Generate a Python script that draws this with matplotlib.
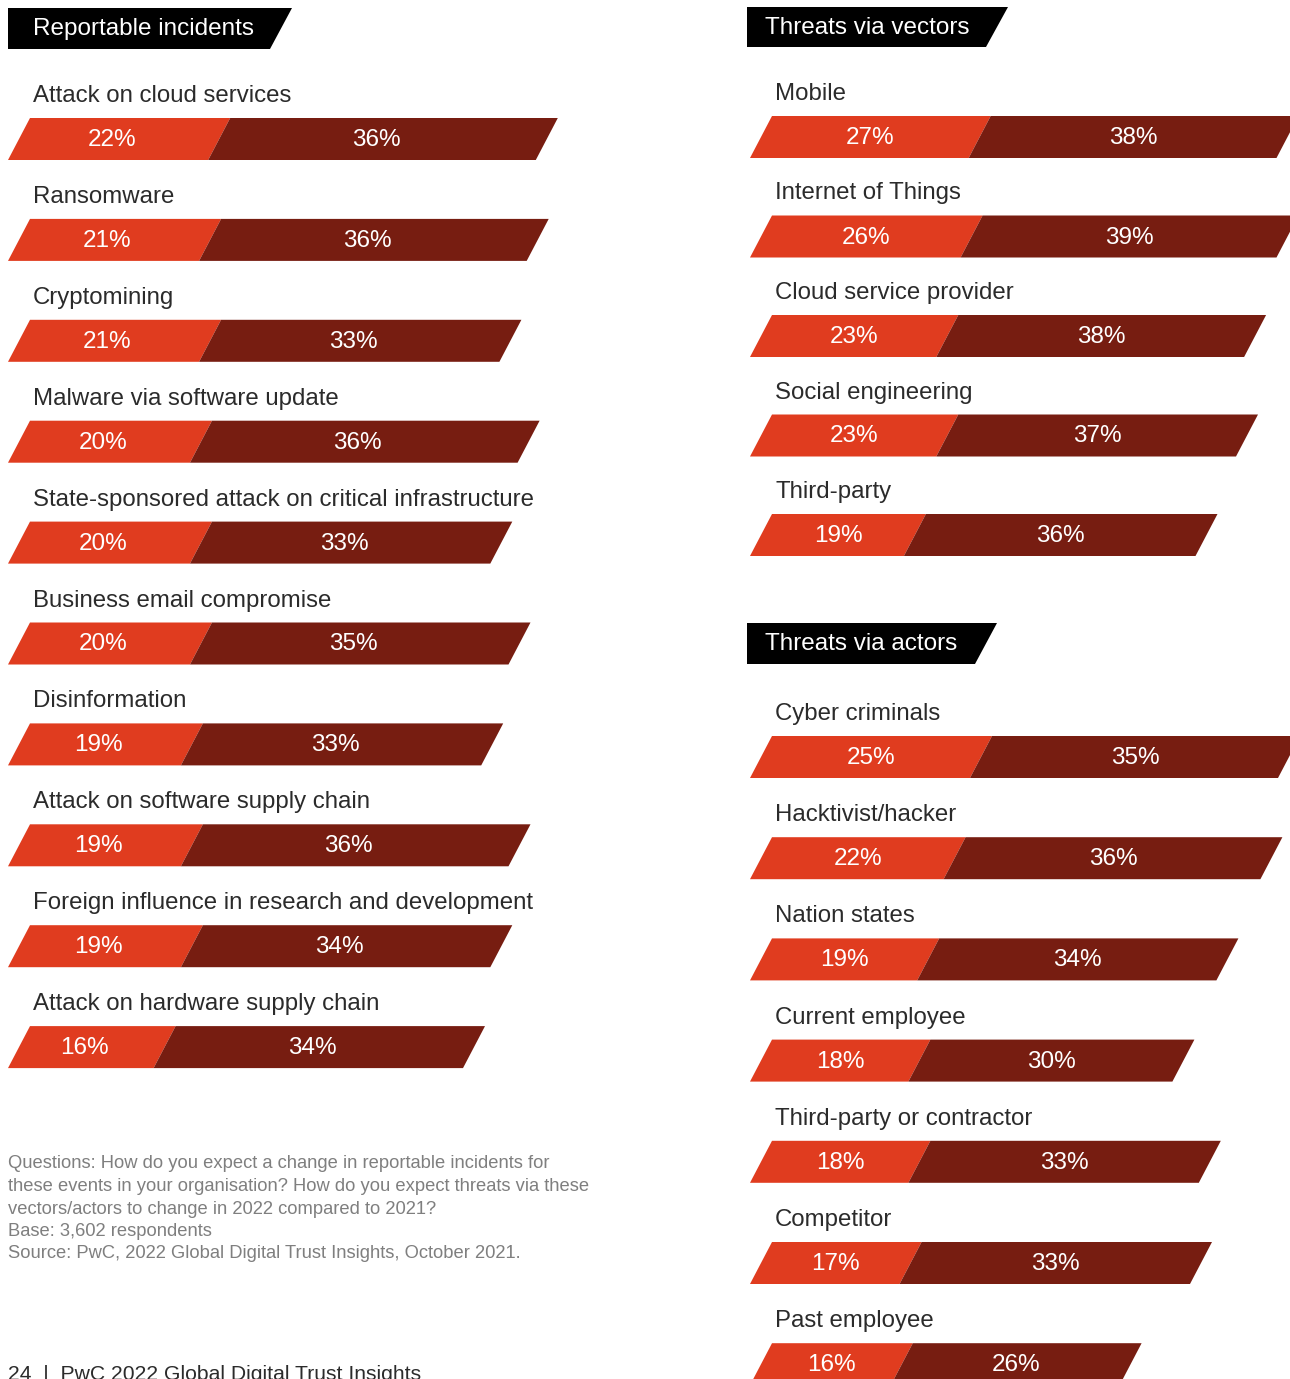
import matplotlib.pyplot as plt
from matplotlib.patches import Polygon

plt.rcParams['font.family'] = ['Liberation Sans', 'DejaVu Sans']

# Reportable incidents
incidents = ["Attack on cloud services", "Ransomware", "Cryptomining",
             "Malware via software update",
             "State-sponsored attack on critical infrastructure",
             "Business email compromise", "Disinformation",
             "Attack on software supply chain",
             "Foreign influence in research and development",
             "Attack on hardware supply chain"]
incidents_low = [22, 21, 21, 20, 20, 20, 19, 19, 19, 16]
incidents_high = [36, 36, 33, 36, 33, 35, 33, 36, 34, 34]

# Threats via vectors
vectors = ["Mobile", "Internet of Things", "Cloud service provider",
           "Social engineering", "Third-party"]
vectors_low = [27, 26, 23, 23, 19]
vectors_high = [38, 39, 38, 37, 36]

# Threats via actors
actors = ["Cyber criminals", "Hacktivist/hacker", "Nation states",
          "Current employee", "Third-party or contractor", "Competitor",
          "Past employee"]
actors_low = [25, 22, 19, 18, 18, 17, 16]
actors_high = [35, 36, 34, 30, 33, 33, 26]

ORANGE = "#E03C1F"
DARK = "#771D11"
TEXT = "#2b2b2b"
GREY = "#7f7f7f"

BAR_H = 42
SLANT = 22

fig = plt.figure(figsize=(12.9, 13.79), dpi=100)
ax = fig.add_axes([0, 0, 1, 1])
ax.set_xlim(0, 1290)
ax.set_ylim(1379, 0)
ax.axis('off')


def para(x0, x1, top, color):
    # parallelogram: x0/x1 are the top edge x positions
    pts = [(x0, top), (x1, top), (x1 - SLANT, top + BAR_H), (x0 - SLANT, top + BAR_H)]
    ax.add_patch(Polygon(pts, closed=True, facecolor=color, edgecolor='none'))
    return (x0 + x1 - SLANT) / 2


def header(x0, x1, top, h, text):
    pts = [(x0, top), (x1, top), (x1 - 22, top + h), (x0, top + h)]
    ax.add_patch(Polygon(pts, closed=True, facecolor='black', edgecolor='none'))
    ax.text(x0 + 25 if x0 < 100 else x0 + 18, top + h / 2 + 1, text,
            color='white', fontsize=17.5, va='center', ha='left')


def panel(names, low, high, x_start, first_top, step, scale, dx=0):
    for i, (name, a, b) in enumerate(zip(names, low, high)):
        top = first_top + i * step
        ax.text(x_start + 3, top - 22, name, color=TEXT, fontsize=17.3,
                va='center', ha='left')
        mid = x_start + a * scale
        end = mid + b * scale
        c1 = para(x_start, mid, top, ORANGE)
        c2 = para(mid, end, top, DARK)
        ax.text(c1 - dx, top + BAR_H / 2 + 1, f"{a}%", color='white',
                fontsize=17.5, va='center', ha='center')
        ax.text(c2 - dx, top + BAR_H / 2 + 1, f"{b}%", color='white',
                fontsize=17.5, va='center', ha='center')


header(8, 292, 8, 41, "Reportable incidents")
panel(incidents, incidents_low, incidents_high, 30, 118, 100.9, 9.1, dx=7)

header(747, 1008, 7, 40, "Threats via vectors")
panel(vectors, vectors_low, vectors_high, 772, 116, 99.5, 8.1)

header(747, 997, 623, 41, "Threats via actors")
panel(actors, actors_low, actors_high, 772, 736, 101.2, 8.8)

notes = ["Questions: How do you expect a change in reportable incidents for",
         "these events in your organisation? How do you expect threats via these",
         "vectors/actors to change in 2022 compared to 2021?",
         "Base: 3,602 respondents",
         "Source: PwC, 2022 Global Digital Trust Insights, October 2021."]
for i, line in enumerate(notes):
    ax.text(8, 1164 + i * 22.5, line, color=GREY, fontsize=13.2,
            va='center', ha='left')

ax.text(8, 1365, "24  |  PwC 2022 Global Digital Trust Insights", color=TEXT,
        fontsize=15.2, va='top', ha='left')

fig.savefig("out.png", dpi=100)
